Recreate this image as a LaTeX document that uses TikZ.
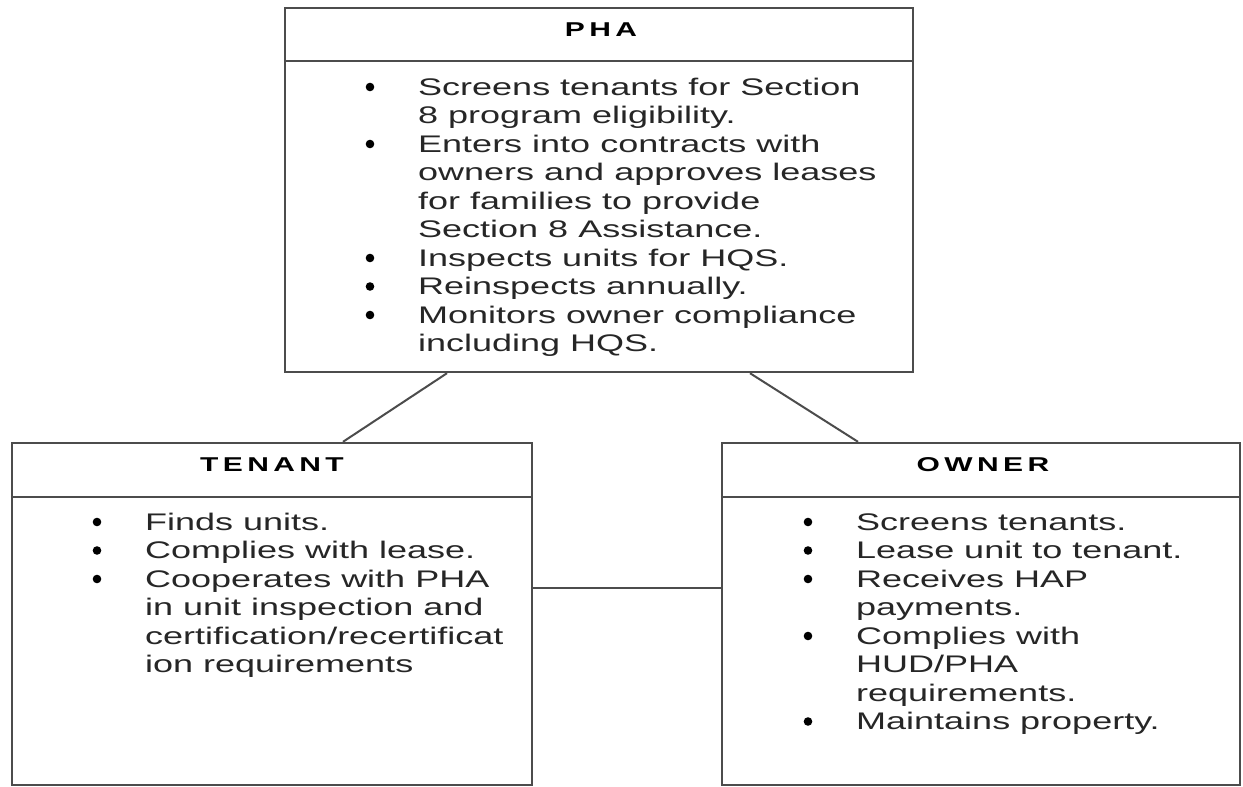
\documentclass[tikz,border=0pt]{standalone}
\usepackage{fontspec}
\setmainfont[FakeStretch=1.5]{Liberation Sans}
\newfontfamily\headfont[FakeStretch=1.5,LetterSpace=22]{Liberation Sans Bold}

\tikzset{
  box/.style={draw=black!70, line width=2.4pt, inner sep=0pt},
  head/.style={font=\fontsize{20}{22}\headfont, text=black},
  list/.style={anchor=north west, inner sep=0pt, text=black!85,
    font=\fontsize{24}{28.5}\selectfont},
  link/.style={draw=black!70, line width=2pt}
}

\begin{document}
\begin{tikzpicture}[x=1pt, y=-1pt]
\useasboundingbox (0,0) rectangle (1243,787);

% The three boxes
\node[box, minimum width=628pt, minimum height=364pt] (pha) at (599,190) {};
\node[box, minimum width=520pt, minimum height=342pt] (tenant) at (272,614) {};
\node[box, minimum width=518pt, minimum height=342pt] (owner) at (981,614) {};

% Header rules and titles
\draw[link] ([yshift=-54pt]pha.north west) -- ([yshift=-54pt]pha.north east);
\draw[link] ([yshift=-55pt]tenant.north west) -- ([yshift=-55pt]tenant.north east);
\draw[link] ([yshift=-55pt]owner.north west) -- ([yshift=-55pt]owner.north east);
\node[head] (phahead) at (601,30) {PHA};
\node[head] (tenanthead) at (272,465) {TENANT};
\node[head] (ownerhead) at (983,465) {OWNER};

% Bullet lists
\node[list] (phalist) at (364,75) {\begin{tabular}{@{}p{54pt}@{}l@{}}
 & Screens tenants for Section\\
 & 8 program eligibility.\\
 & Enters into contracts with\\
 & owners and approves leases\\
 & for families to provide\\
 & Section 8 Assistance.\\
 & Inspects units for HQS.\\
 & Reinspects annually.\\
 & Monitors owner compliance\\
 & including HQS.
\end{tabular}};
\node[list] (tenantlist) at (91,510) {\begin{tabular}{@{}p{54pt}@{}l@{}}
 & Finds units.\\
 & Complies with lease.\\
 & Cooperates with PHA\\
 & in unit inspection and\\
 & certification/recertificat\\
 & ion requirements
\end{tabular}};
\node[list] (ownerlist) at (802,510) {\begin{tabular}{@{}p{54pt}@{}l@{}}
 & Screens tenants.\\
 & Lease unit to tenant.\\
 & Receives HAP\\
 & payments.\\
 & Complies with\\
 & HUD/PHA\\
 & requirements.\\
 & Maintains property.
\end{tabular}};

% Bullet dots, one per item
\foreach \r in {0,2,6,7,8}
  \fill (370,87+28.5*\r) circle (4.3pt);
\foreach \r in {0,1,2}
  \fill (97,522+28.5*\r) circle (4.3pt);
\foreach \r in {0,1,2,4,7}
  \fill (808,522+28.5*\r) circle (4.3pt);

% Connectors
\draw[link] ([xshift=-152pt]pha.south) -- ([xshift=71pt]tenant.north);
\draw[link] ([xshift=151pt]pha.south) -- ([xshift=-123pt]owner.north);
\draw[link] ([yshift=26pt]tenant.east) -- ([yshift=26pt]owner.west);
\end{tikzpicture}
\end{document}
